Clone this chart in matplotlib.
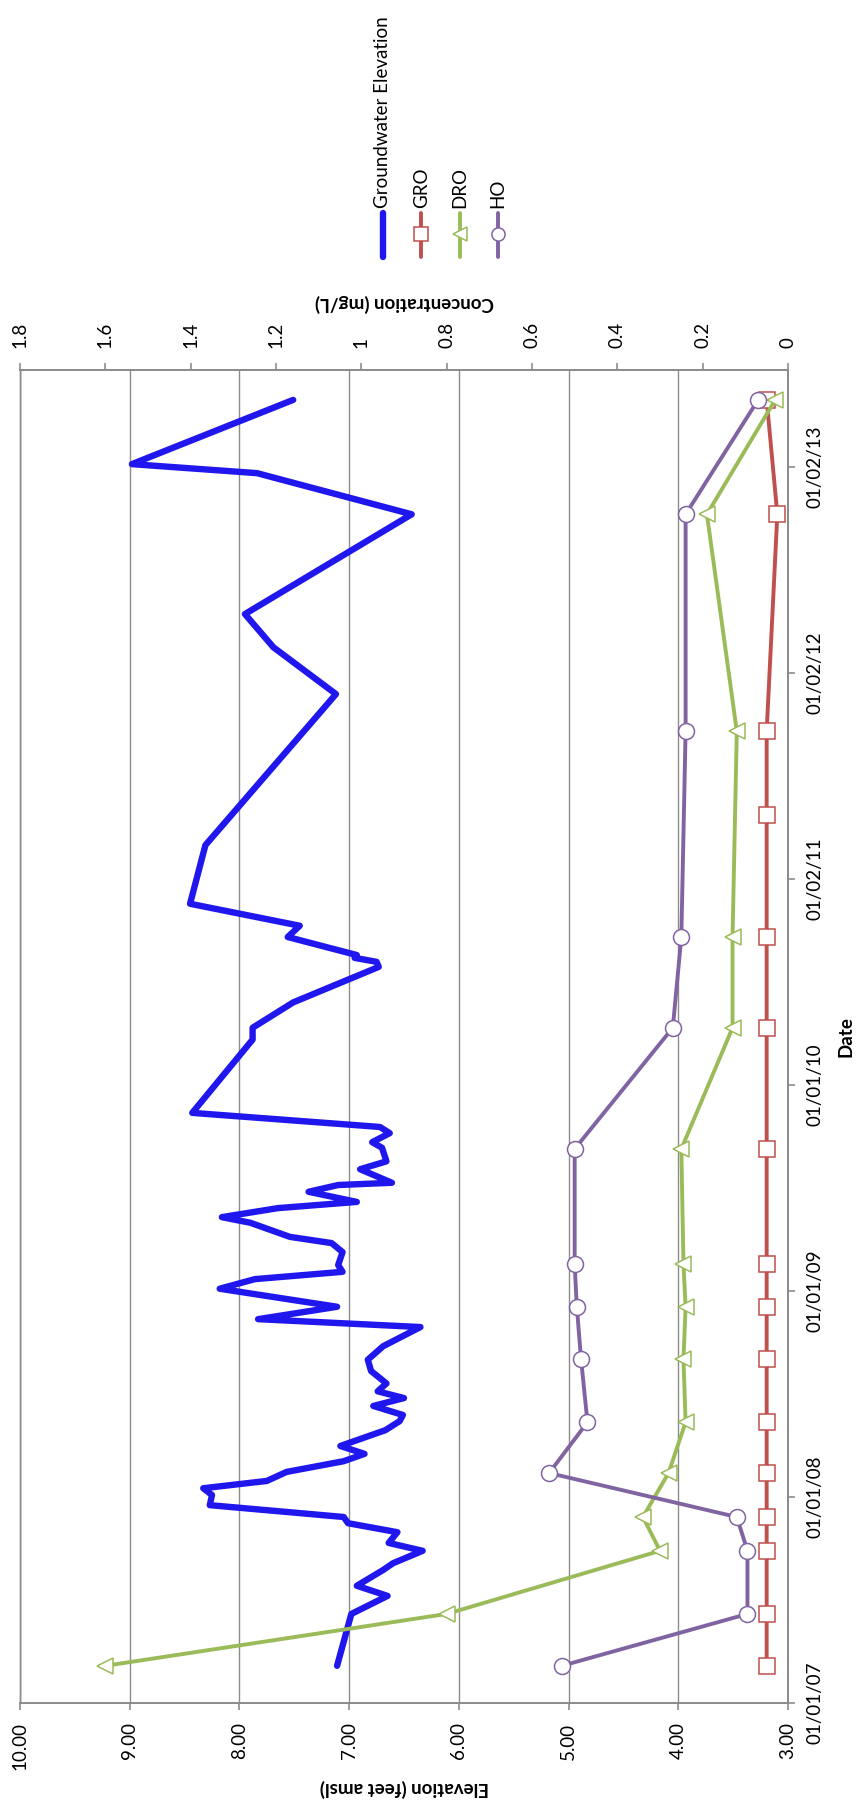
import matplotlib
matplotlib.use('Agg')
import matplotlib.pyplot as plt
import matplotlib.dates as mdates
import numpy as np
import pandas as pd

# -------------------------------------------------------
# Data

# Groundwater elevation (feet amsl)
gw_dates = ['2007-03-08', '2007-06-08', '2007-07-10', '2007-07-28', '2007-08-25', '2007-09-06',
            '2007-09-28', '2007-10-12', '2007-10-31', '2007-11-16', '2007-11-27', '2007-12-18',
            '2008-01-05', '2008-01-17', '2008-01-30', '2008-02-15', '2008-03-05', '2008-03-18',
            '2008-04-01', '2008-04-29', '2008-05-15', '2008-05-26', '2008-06-11', '2008-06-25',
            '2008-07-07', '2008-07-21', '2008-08-12', '2008-09-01', '2008-09-25', '2008-10-29',
            '2008-11-12', '2008-12-04', '2009-01-05', '2009-01-22', '2009-02-04', '2009-02-16',
            '2009-03-11', '2009-03-27', '2009-04-07', '2009-05-02', '2009-05-12', '2009-05-28',
            '2009-06-08', '2009-06-26', '2009-07-08', '2009-07-12', '2009-08-05', '2009-08-19',
            '2009-09-12', '2009-09-22', '2009-10-08', '2009-10-19', '2009-11-13', '2010-03-23',
            '2010-04-13', '2010-05-28', '2010-07-30', '2010-08-08', '2010-08-15', '2010-08-20',
            '2010-09-21', '2010-10-11', '2010-11-19', '2011-03-03', '2011-11-26', '2012-02-17',
            '2012-04-16', '2012-10-10', '2012-12-22', '2013-01-07', '2013-05-01']
gw_elev = [7.11, 6.98, 6.65, 6.93, 6.69, 6.60,
           6.33, 6.64, 6.56, 7.01, 7.05, 8.27,
           8.25, 8.33, 7.75, 7.57, 7.05, 6.86,
           7.08, 6.67, 6.54, 6.51, 6.78, 6.50,
           6.74, 6.66, 6.80, 6.83, 6.69, 6.35,
           7.83, 7.11, 8.18, 7.86, 7.06, 7.10,
           7.06, 7.16, 7.54, 7.90, 8.16, 7.65,
           6.93, 7.37, 7.10, 6.61, 6.90, 6.66,
           6.70, 6.79, 6.63, 6.72, 8.43, 7.88,
           7.88, 7.51, 6.73, 6.75, 6.95, 6.93,
           7.56, 7.45, 8.45, 8.31, 7.12, 7.69,
           7.95, 6.43, 7.84, 8.98, 7.51]

# Sampling events (mg/L)
gro_dates = ['2007-03-08', '2007-06-08', '2007-09-28', '2007-11-27', '2008-02-13', '2008-05-13',
             '2008-09-02', '2008-12-04', '2009-02-17', '2009-09-10', '2010-04-13', '2010-09-21',
             '2011-04-25', '2011-09-21', '2012-10-10', '2013-05-01']
gro = [0.05, 0.05, 0.05, 0.05, 0.05, 0.05, 0.05, 0.05,
       0.05, 0.05, 0.05, 0.05, 0.05, 0.05, 0.025, 0.05]

dro_dates = ['2007-03-08', '2007-06-08', '2007-09-28', '2007-11-27', '2008-02-13', '2008-05-13',
             '2008-09-02', '2008-12-04', '2009-02-17', '2009-09-10', '2010-04-13', '2010-09-21',
             '2011-09-21', '2012-10-10', '2013-05-01']
dro = [1.60, 0.80, 0.30, 0.34, 0.28, 0.24, 0.245, 0.24,
       0.245, 0.25, 0.13, 0.13, 0.12, 0.19, 0.03]

ho_dates = dro_dates
ho = [0.53, 0.095, 0.095, 0.12, 0.56, 0.47, 0.485, 0.495,
      0.50, 0.50, 0.27, 0.25, 0.24, 0.24, 0.07]

elev_ticks = [3, 4, 5, 6, 7, 8, 9, 10]
conc_ticks = [0, 0.2, 0.4, 0.6, 0.8, 1.0, 1.2, 1.4, 1.6, 1.8]

# -------------------------------------------------------
# Style

plt.rcParams['font.family'] = ['Lato', 'DejaVu Sans']
plt.rcParams['font.size'] = 13.5

blue = '#2016EE'
red = '#C0504D'
green = '#9BBB59'
purple = '#8064A2'
grey = '#8C8C8C'

W, H = 865, 1818
fig = plt.figure(figsize=(W / 100, H / 100), dpi=100)

# plot frame in pixels (the chart is drawn turned a quarter turn)
left_px, right_px, top_px, bottom_px = 20, 788, 370, 1703
ax = fig.add_axes([left_px / W, 1 - bottom_px / H,
                   (right_px - left_px) / W, (bottom_px - top_px) / H])

to_num = lambda d: mdates.date2num(pd.to_datetime(d))
start = to_num(['2007-01-01'])[0]

# Groundwater elevation on the primary axis
ax.plot(gw_elev, to_num(gw_dates), color=blue, linewidth=4.6,
        solid_joinstyle='round', solid_capstyle='round', zorder=3)

ax.set_xlim(10, 3)
ax.set_ylim(start, start + 2365)

ax.set_xticks(elev_ticks)
ax.set_xticklabels([f'{v:.2f}' for v in elev_ticks], rotation=90, ha='center', va='top')

# Date ticks every 365.5 days, like the spreadsheet axis
date_ticks = start + 365.5 * np.arange(7)
ax.yaxis.tick_right()
ax.set_yticks(date_ticks)
ax.set_yticklabels([mdates.num2date(t).strftime('%m/%d/%y') for t in date_ticks],
                   rotation=90, va='center', ha='left')

ax.xaxis.grid(True, color=grey, linewidth=1.0)
ax.yaxis.grid(False)
ax.set_axisbelow(True)
for s in ax.spines.values():
    s.set_color(grey)
    s.set_linewidth(1.3)
ax.spines['left'].set_linewidth(1.0)

ax.tick_params(axis='x', direction='out', length=5, width=1.2, color=grey, pad=9, labelsize=13.5)
ax.tick_params(axis='y', direction='out', length=5, width=1.2, color=grey, pad=8.5, labelsize=13.5,
               left=False, right=True)

ax.set_xlabel('Elevation (feet amsl)', rotation=180, fontweight='bold', fontsize=13.5,
              ha='center', va='center')
ax.xaxis.set_label_coords(0.5, (bottom_px - 1788) / (bottom_px - top_px))
ax.yaxis.set_label_position('right')
ax.set_ylabel('Date', rotation=90, fontweight='bold', fontsize=13.5, ha='center', va='center')
ax.yaxis.set_label_coords((846 - left_px) / (right_px - left_px), 0.5)

# Concentrations on the secondary axis
ax2 = ax.twiny()
ax2.plot(gro, to_num(gro_dates), color=red, linewidth=2.8, marker='s', markersize=11,
         markerfacecolor='white', markeredgecolor=red, markeredgewidth=1.1, zorder=4)
ax2.plot(dro, to_num(dro_dates), color=green, linewidth=2.8, marker='<', markersize=11.5,
         markerfacecolor='white', markeredgecolor=green, markeredgewidth=1.1, zorder=4)
ax2.plot(ho, to_num(ho_dates), color=purple, linewidth=2.8, marker='o', markersize=11.5,
         markerfacecolor='white', markeredgecolor=purple, markeredgewidth=1.1, zorder=4)

ax2.set_xlim(1.8, 0)
ax2.set_xticks(conc_ticks)
ax2.set_xticklabels([f'{round(v, 1):g}' for v in conc_ticks], rotation=90, ha='center', va='bottom')
ax2.tick_params(axis='x', direction='out', length=5, width=1.2, color=grey, pad=10.5, labelsize=13.5)
for s in ax2.spines.values():
    s.set_color(grey)
    s.set_linewidth(1.3)
ax2.spines['left'].set_linewidth(1.0)
ax2.set_xlabel('Concentration (mg/L)', rotation=180, fontweight='bold', fontsize=13.5,
               ha='center', va='center')
ax2.xaxis.set_label_coords(0.5, (bottom_px - 303) / (bottom_px - top_px))

# -------------------------------------------------------
# Legend, drawn turned like the rest of the chart
leg = fig.add_axes([0, 0, 1, 1])
leg.set_xlim(0, W)
leg.set_ylim(H, 0)
leg.axis('off')

entries = [('Groundwater Elevation', blue, None, 4.6),
           ('GRO', red, 's', 2.8),
           ('DRO', green, '<', 2.8),
           ('HO', purple, 'o', 2.8)]
for i, (name, col, mk, lw) in enumerate(entries):
    xc = 383 + i * 38.4
    leg.plot([xc, xc], [213, 257], color=col, linewidth=lw, solid_capstyle='round')
    if mk:
        leg.plot([xc], [234], marker=mk, markersize=9.5, markerfacecolor='white',
                 markeredgecolor=col, markeredgewidth=1.1, color=col)
    leg.text(xc, 208, name, rotation=90, ha='center', va='bottom', fontsize=13.5)

fig.savefig('out.png', dpi=100)
